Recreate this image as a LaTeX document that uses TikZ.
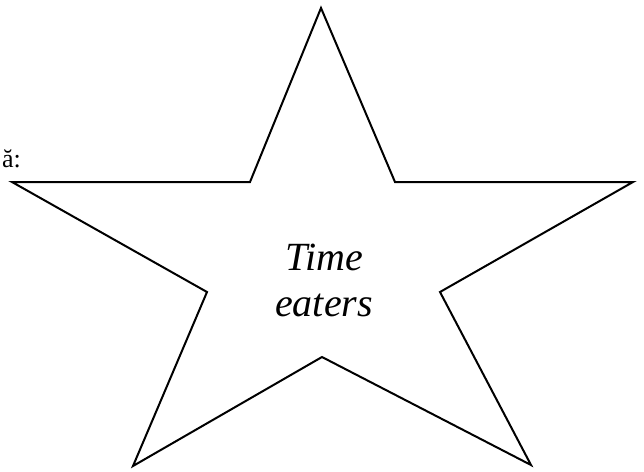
\documentclass[tikz,border=0pt]{standalone}
\usepackage{fontspec}
\setmainfont{Liberation Serif}
\tikzset{
  starline/.style={draw=black, line width=2pt, line join=miter},
  labeltext/.style={font=\itshape\fontsize{40}{46}\selectfont, align=center, inner sep=0pt},
  sidetext/.style={font=\fontsize{26}{30}\selectfont, inner sep=0pt}
}
\begin{document}
\begin{tikzpicture}[x=1pt,y=-1pt]
\useasboundingbox (0,0) rectangle (644,471);
\clip (0,0) rectangle (644,471);
\coordinate (p1) at (321,8);
\coordinate (i1) at (395,182);
\coordinate (p2) at (633,182);
\coordinate (i2) at (440,292);
\coordinate (p3) at (531,465);
\coordinate (i3) at (322,357);
\coordinate (p4) at (133,466);
\coordinate (i4) at (207,292);
\coordinate (p5) at (12,182);
\coordinate (i5) at (250,182);
\draw[starline] (p1) -- (i1) -- (p2) -- (i2) -- (p3) -- (i3) -- (p4) -- (i4) -- (p5) -- (i5) -- cycle;
\node[labeltext] (lbl) at (324,280) {Time\\eaters};
\node[sidetext, anchor=base east] (side) at (21,167) {ă:};
\end{tikzpicture}
\end{document}
